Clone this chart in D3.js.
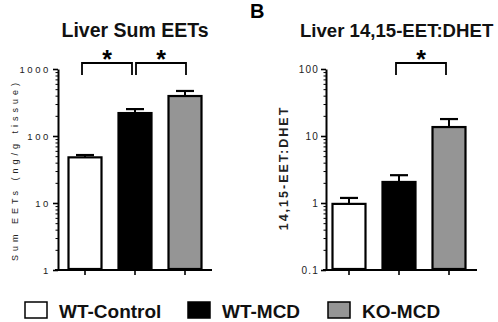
<!DOCTYPE html>
<html lang="en">
<head>
<meta charset="UTF-8">
<title>Liver EETs</title>
<script src="https://cdnjs.cloudflare.com/ajax/libs/d3/7.8.5/d3.min.js"></script>
<style>
    body { margin: 0; background: #fff; }
    svg { display: block; font-family: "Liberation Sans", Arial, sans-serif; }
</style>
</head>
<body>
<svg id="chart" width="498" height="322"></svg>
<script>
    // data
    const groups = ["WT-Control", "WT-MCD", "KO-MCD"];
    const fills = ["#ffffff", "#000000", "#959595"];

    const sumMean = [48, 220, 395];
    const sumSem = [4, 32, 75];
    const sumTicks = [1, 10, 100, 1000];
    const sumSig = [[0, 1], [1, 2]];

    const ratioMean = [0.97, 2.06, 13.6];
    const ratioSem = [0.22, 0.54, 4.3];
    const ratioTicks = [0.1, 1, 10, 100];
    const ratioTickLabels = ["0.1", "1", "10", "100"];
    const ratioSig = [[1, 2]];

    const svg = d3.select("#chart");

    // draws one bar panel
    function panel(opts) {
        const g = svg.append("g");
        const y = d3.scaleLog().domain(opts.domain).range([270, 69]);
        const x = d3.scaleBand().domain(groups)
            .range(opts.xRange).paddingInner(0.3).paddingOuter(0.15);
        const cx = d => x(d) + x.bandwidth() / 2;

        // minor ticks
        const minors = [];
        for (let d = opts.domain[0]; d < opts.domain[1]; d *= 10) {
            for (let k = 2; k <= 9; k++) minors.push(+(d * k).toPrecision(3));
        }
        g.append("g")
            .attr("transform", `translate(${opts.axisX},0)`)
            .call(d3.axisLeft(y).tickValues(minors).tickSize(2.5).tickSizeOuter(0).tickFormat(""))
            .call(a => a.select(".domain").remove())
            .call(a => a.selectAll("line").attr("stroke", "#000").attr("stroke-width", 1));

        // major ticks + axis line
        g.append("g")
            .attr("transform", `translate(${opts.axisX},0)`)
            .call(d3.axisLeft(y).tickValues(opts.ticks).tickSize(5).tickSizeOuter(0)
                .tickFormat((d, i) => opts.tickLabels[i]))
            .call(a => a.select(".domain").attr("stroke-width", 2))
            .call(a => a.selectAll("line").attr("stroke-width", 1.6))
            .call(a => a.selectAll("text")
                .attr("fill", "#222")
                .attr("font-size", opts.tickFont)
                .attr("letter-spacing", opts.tickSpacing)
                .attr("x", -7)
                .attr("font-family", "'Liberation Sans', Arial, sans-serif"));

        // x axis
        g.append("line")
            .attr("x1", opts.axisX - 3).attr("x2", opts.xEnd)
            .attr("y1", 270).attr("y2", 270)
            .attr("stroke", "#000").attr("stroke-width", 2);
        g.selectAll(".xt").data(groups).enter().append("line")
            .attr("x1", cx).attr("x2", cx)
            .attr("y1", 270).attr("y2", 275)
            .attr("stroke", "#000").attr("stroke-width", 1.6);

        // error bars (upper only)
        g.selectAll(".err").data(groups).enter().append("line")
            .attr("x1", cx).attr("x2", cx)
            .attr("y1", (d, i) => y(opts.mean[i]))
            .attr("y2", (d, i) => y(opts.mean[i] + opts.sem[i]))
            .attr("stroke", "#000").attr("stroke-width", 2);
        g.selectAll(".cap").data(groups).enter().append("line")
            .attr("x1", d => cx(d) - 9).attr("x2", d => cx(d) + 9)
            .attr("y1", (d, i) => y(opts.mean[i] + opts.sem[i]))
            .attr("y2", (d, i) => y(opts.mean[i] + opts.sem[i]))
            .attr("stroke", "#000").attr("stroke-width", 2.2);

        // bars
        g.selectAll(".bar").data(groups).enter().append("rect")
            .attr("x", d => x(d) + 1)
            .attr("width", x.bandwidth() - 2)
            .attr("y", (d, i) => y(opts.mean[i]))
            .attr("height", (d, i) => 269 - y(opts.mean[i]))
            .attr("fill", (d, i) => fills[i])
            .attr("stroke", "#000").attr("stroke-width", 2.2);

        // significance brackets
        let prevRight = -1;
        opts.sig.forEach(([a, b]) => {
            const x1 = cx(groups[a]) + (a === prevRight ? 1 : -3);
            const x2 = cx(groups[b]) + (a === prevRight ? 1 : -3);
            prevRight = b;
            g.append("path")
                .attr("d", `M${x1},75 V63 H${x2} V75`)
                .attr("fill", "none").attr("stroke", "#000").attr("stroke-width", 1.8);
            g.append("text")
                .attr("x", (x1 + x2) / 2).attr("y", 68)
                .attr("text-anchor", "middle")
                .attr("font-size", 25).attr("font-weight", "bold")
                .text("*");
        });

        // title
        g.append("text")
            .attr("x", opts.titleX).attr("y", 37)
            .attr("text-anchor", opts.titleAnchor)
            .attr("font-size", opts.titleFont).attr("font-weight", "bold")
            .attr("fill", "#111")
            .text(opts.title);

        // y label
        g.append("text")
            .attr("transform", `translate(${opts.labelX},${opts.labelY}) rotate(-90)`)
            .attr("text-anchor", "middle")
            .attr("font-size", opts.labelFont)
            .attr("font-weight", opts.labelWeight)
            .attr("letter-spacing", opts.labelSpacing)
            .attr("fill", "#222")
            .text(opts.label);
    }

    panel({
        domain: [1, 1000], ticks: sumTicks, tickLabels: sumTicks.map(String),
        tickFont: 9.5, tickSpacing: 2.6,
        mean: sumMean, sem: sumSem, sig: sumSig,
        axisX: 58, xRange: [60, 210], xEnd: 212,
        title: "Liver Sum EETs", titleX: 135, titleAnchor: "middle", titleFont: 19.5,
        label: "Sum EETs (ng/g tissue)", labelX: 18, labelY: 170,
        labelFont: 9, labelSpacing: 4, labelWeight: "normal"
    });

    panel({
        domain: [0.1, 100], ticks: ratioTicks, tickLabels: ratioTickLabels,
        tickFont: 10, tickSpacing: 1.2,
        mean: ratioMean, sem: ratioSem, sig: ratioSig,
        axisX: 326, xRange: [324, 474], xEnd: 477,
        title: "Liver 14,15-EET:DHET", titleX: 300, titleAnchor: "start", titleFont: 18.6,
        label: "14,15-EET:DHET", labelX: 288, labelY: 168,
        labelFont: 12.5, labelSpacing: 2, labelWeight: "bold"
    });

    // panel letter
    svg.append("text")
        .attr("x", 250).attr("y", 18)
        .attr("font-size", 20).attr("font-weight", "bold")
        .text("B");

    // legend
    const legendX = [25, 188, 328];
    const leg = svg.append("g").selectAll("g").data(groups).enter().append("g")
        .attr("transform", (d, i) => `translate(${legendX[i]},302)`);
    leg.append("rect")
        .attr("width", 22).attr("height", 16)
        .attr("fill", (d, i) => fills[i])
        .attr("stroke", "#000").attr("stroke-width", 1.5);
    leg.append("text")
        .attr("x", 34).attr("y", 15.5)
        .attr("font-size", 19).attr("font-weight", "bold")
        .attr("fill", "#111")
        .text(d => d);
</script>
</body>
</html>
